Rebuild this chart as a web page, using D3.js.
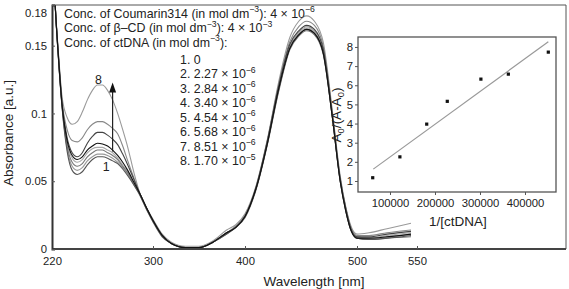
<!DOCTYPE html>
<html>
<head>
<meta charset="utf-8">
<script src="https://cdn.jsdelivr.net/npm/d3@7"></script>
<style>
body { margin: 0; background: #fff; }
svg { font-family: "Liberation Sans", Arial, sans-serif; }
</style>
</head>
<body>
<div id="chart"></div>
<script>
// wavelengths (nm) shared by all 8 spectra
const wavelengths = [220,222,225,228,232,236,240,244,248,252,256,260,264,268,272,276,280,285,290,295,
  300,310,320,335,350,365,380,390,400,410,420,430,440,448,455,462,470,478,485,490,495,500,510,525,545];

const abs1 = [0.24,0.19,0.142,0.104,0.072,0.058,0.055,0.057,0.062,0.066,0.068,0.068,0.067,0.065,0.063,0.059,0.054,0.047,0.039,0.029,
  0.020,0.009,0.004,0.001,0.001,0.005,0.011,0.016,0.024,0.045,0.078,0.117,0.148,0.158,0.162,0.159,0.144,0.097,0.050,0.028,0.013,0.008,0.007,0.008,0.010];
const abs2 = [0.24,0.19,0.142,0.105,0.074,0.061,0.058,0.060,0.065,0.068,0.070,0.070,0.069,0.067,0.064,0.060,0.055,0.047,0.039,0.029,
  0.021,0.010,0.004,0.001,0.001,0.005,0.012,0.016,0.024,0.045,0.079,0.119,0.150,0.160,0.164,0.161,0.146,0.098,0.051,0.029,0.014,0.009,0.008,0.009,0.011];
const abs3 = [0.24,0.19,0.142,0.105,0.076,0.064,0.061,0.063,0.068,0.071,0.073,0.073,0.071,0.069,0.066,0.061,0.056,0.048,0.040,0.030,
  0.021,0.010,0.004,0.001,0.001,0.005,0.011,0.016,0.023,0.044,0.077,0.116,0.147,0.157,0.161,0.158,0.143,0.097,0.050,0.028,0.013,0.008,0.007,0.008,0.009];
const abs4 = [0.24,0.19,0.143,0.106,0.078,0.067,0.064,0.066,0.071,0.074,0.075,0.075,0.073,0.071,0.067,0.062,0.057,0.048,0.040,0.030,
  0.021,0.010,0.004,0.001,0.001,0.005,0.012,0.016,0.024,0.045,0.078,0.118,0.149,0.159,0.163,0.160,0.145,0.098,0.051,0.029,0.014,0.009,0.008,0.010,0.012];
const abs5 = [0.24,0.19,0.143,0.106,0.080,0.069,0.066,0.068,0.073,0.076,0.078,0.0775,0.076,0.073,0.069,0.064,0.058,0.049,0.040,0.030,
  0.021,0.010,0.004,0.001,0.001,0.005,0.012,0.016,0.024,0.045,0.078,0.118,0.148,0.158,0.162,0.159,0.144,0.097,0.050,0.028,0.013,0.008,0.008,0.009,0.011];
const abs6 = [0.24,0.19,0.144,0.107,0.082,0.071,0.068,0.071,0.078,0.083,0.086,0.086,0.084,0.081,0.077,0.070,0.062,0.051,0.040,0.030,
  0.021,0.010,0.004,0.001,0.001,0.005,0.012,0.016,0.024,0.046,0.080,0.120,0.151,0.161,0.165,0.162,0.147,0.099,0.052,0.030,0.014,0.009,0.009,0.011,0.013];
const abs7 = [0.24,0.19,0.145,0.109,0.088,0.080,0.079,0.082,0.088,0.092,0.094,0.094,0.092,0.089,0.085,0.076,0.065,0.052,0.040,0.030,
  0.021,0.010,0.004,0.001,0.001,0.005,0.012,0.017,0.025,0.046,0.080,0.121,0.153,0.164,0.168,0.165,0.149,0.100,0.052,0.030,0.015,0.010,0.010,0.012,0.014];
const abs8 = [0.24,0.19,0.146,0.112,0.097,0.092,0.094,0.101,0.110,0.117,0.121,0.121,0.117,0.110,0.100,0.088,0.075,0.056,0.040,0.030,
  0.022,0.011,0.005,0.002,0.002,0.006,0.014,0.018,0.026,0.047,0.081,0.123,0.156,0.168,0.172,0.168,0.152,0.102,0.054,0.031,0.016,0.011,0.012,0.015,0.019];

const xTicks = [220, 300, 400, 500, 550];
const yTicks = [0, 0.05, 0.1, 0.15, 0.18];

// legend text
const headerLines = [
  [["Conc. of Coumarin314 (in mol dm", ""], ["−3", "sup"], ["): 4 × 10", ""], ["−6", "sup"]],
  [["Conc. of β–CD (in mol dm", ""], ["−3", "sup"], ["): 4 × 10", ""], ["−3", "sup"]],
  [["Conc. of ctDNA (in mol dm", ""], ["−3", "sup"], ["):", ""]]
];
const concMantissa = ["0", "2.27", "2.84", "3.40", "4.54", "5.68", "8.51", "1.70"];
const concExponent = ["", "−6", "−6", "−6", "−6", "−6", "−6", "−5"];

// inset: A0/(A-A0) vs 1/[ctDNA]
const invConc = [61600, 122000, 181600, 227300, 302000, 363000, 451800];
const ratio = [1.17, 2.26, 3.97, 5.16, 6.32, 6.58, 7.73];
const fitX = [62900, 451800];
const fitY = [1.62, 8.27];
const insetXTicks = [100000, 200000, 300000, 400000];
const insetYTicks = [1, 2, 3, 4, 5, 6, 7, 8];

const W = 569, H = 289;
const svg = d3.select("#chart").append("svg")
  .attr("width", W).attr("height", H);

// main scales (the original axis is not evenly spaced)
const x = d3.scaleLinear().domain([220, 300, 400, 500, 550]).range([52, 153, 245, 357, 417]);
const y = d3.scaleLinear().domain([0, 0.18]).range([249, 5]);

svg.append("clipPath").attr("id", "plotclip")
  .append("rect").attr("x", 52).attr("y", 5).attr("width", 514).attr("height", 244);

const spectra = [abs8, abs7, abs4, abs2, abs3, abs1, abs6, abs5];
const colors = ["#9a9a9a", "#888", "#aaa", "#999", "#777", "#555", "#444", "#111"];

const line = d3.line()
  .x((d, i) => x(wavelengths[i]))
  .y(d => y(d))
  .curve(d3.curveMonotoneX);

svg.append("g").attr("clip-path", "url(#plotclip)")
  .selectAll("path")
  .data(spectra)
  .join("path")
    .attr("d", line)
    .attr("fill", "none")
    .attr("stroke", (d, i) => colors[i])
    .attr("stroke-width", 1.1);

// frame
svg.append("line").attr("x1", 52).attr("x2", 566).attr("y1", 5).attr("y2", 5)
  .attr("stroke", "#555").attr("stroke-width", 1);
svg.append("line").attr("x1", 566).attr("x2", 566).attr("y1", 5).attr("y2", 249)
  .attr("stroke", "#555").attr("stroke-width", 1);

const xAxis = svg.append("g")
  .attr("transform", "translate(0,249)")
  .call(d3.axisBottom(x).tickValues(xTicks).tickFormat(d3.format("d")).tickSize(-3).tickPadding(8));
xAxis.select(".domain").attr("d", "M52,0H566").attr("stroke", "#444").attr("stroke-width", 2);

const yAxis = svg.append("g")
  .attr("transform", "translate(52,0)")
  .call(d3.axisLeft(y).tickValues(yTicks).tickFormat(d => d === 0 ? "0" : String(d)).tickSize(-3).tickPadding(5));
yAxis.select(".domain").attr("stroke", "#333").attr("stroke-width", 2);
yAxis.selectAll(".tick text").filter(d => d === 0.18).attr("dy", "1.05em");

svg.selectAll(".tick text").attr("font-size", 11.3).attr("fill", "#222").attr("font-family", null);
svg.selectAll(".tick line").attr("stroke", "#555");

svg.append("text")
  .attr("x", 314).attr("y", 286)
  .attr("text-anchor", "middle").attr("font-size", 13.5).attr("fill", "#222")
  .text("Wavelength [nm]");
svg.append("text")
  .attr("transform", "translate(13,133) rotate(-90)")
  .attr("text-anchor", "middle").attr("font-size", 13.5).attr("fill", "#222")
  .text("Absorbance [a.u.]");

// helper for text with superscripts / subscripts
function richText(g, parts, size) {
  const t = g.append("text").attr("font-size", size).attr("fill", "#222");
  let shift = 0;
  parts.forEach(p => {
    const sp = t.append("tspan").text(p[0]);
    let want = 0;
    if (p[1] === "sup") { want = -size * 0.42; sp.attr("font-size", size * 0.7); }
    if (p[1] === "sub") { want = size * 0.25; sp.attr("font-size", size * 0.7); }
    if (want !== shift) sp.attr("dy", want - shift);
    shift = want;
  });
  return t;
}

headerLines.forEach((parts, i) => {
  richText(svg, parts, 12.4).attr("x", 64).attr("y", 17.5 + i * 14.5);
});
concMantissa.forEach((m, i) => {
  const parts = [[(i + 1) + ". " + m + (concExponent[i] ? " × 10" : ""), ""]];
  if (concExponent[i]) parts.push([concExponent[i], "sup"]);
  richText(svg, parts, 12.4).attr("x", 180).attr("y", 63.5 + i * 14.5);
});

// arrow and curve numbers
const arrowNm = 268, arrowFrom = 0.072, arrowTo = 0.1228;
svg.append("line")
  .attr("x1", x(arrowNm)).attr("x2", x(arrowNm))
  .attr("y1", y(arrowFrom)).attr("y2", y(arrowTo) + 8)
  .attr("stroke", "#222").attr("stroke-width", 1.2);
svg.append("path")
  .attr("d", `M${x(arrowNm)},${y(arrowTo)} l-3.5,10 h7 z`)
  .attr("fill", "#111");
svg.append("text").attr("x", x(256.8)).attr("y", y(0.1249) + 4.5)
  .attr("text-anchor", "middle").attr("font-size", 12.4).attr("fill", "#222").text("8");
svg.append("text").attr("x", x(263)).attr("y", y(0.0606) + 4.5)
  .attr("text-anchor", "middle").attr("font-size", 12.4).attr("fill", "#222").text("1");

// inset
const ix = d3.scaleLinear().domain([28900, 468900]).range([358, 556]);
const iy = d3.scaleLinear().domain([0.425, 8.52]).range([192, 37]);

const inset = svg.append("g");
inset.append("rect").attr("x", 358).attr("y", 37).attr("width", 198).attr("height", 155)
  .attr("fill", "#fff").attr("stroke", "#555").attr("stroke-width", 1.3);

const iyAxis = inset.append("g").attr("transform", "translate(358,0)")
  .call(d3.axisLeft(iy).tickValues(insetYTicks).tickSize(3).tickPadding(2));
const ixAxis = inset.append("g").attr("transform", "translate(0,192)")
  .call(d3.axisBottom(ix).tickValues(insetXTicks).tickFormat(d3.format("d")).tickSize(3).tickPadding(4));
inset.selectAll(".domain").remove();
inset.selectAll(".tick text").attr("font-size", 11.3).attr("fill", "#222").attr("font-family", null);
inset.selectAll(".tick line").attr("stroke", "#555");

inset.append("line")
  .attr("x1", ix(fitX[0])).attr("y1", iy(fitY[0]))
  .attr("x2", ix(fitX[1])).attr("y2", iy(fitY[1]))
  .attr("stroke", "#999").attr("stroke-width", 1.2);

inset.selectAll("rect.pt")
  .data(invConc)
  .join("rect").attr("class", "pt")
    .attr("x", (d) => ix(d) - 1.6)
    .attr("y", (d, i) => iy(ratio[i]) - 1.6)
    .attr("width", 3.2).attr("height", 3.2)
    .attr("fill", "#111");

inset.append("text").attr("x", 458).attr("y", 226)
  .attr("text-anchor", "middle").attr("font-size", 13.5).attr("fill", "#222")
  .text("1/[ctDNA]");
richText(inset, [["A", ""], ["0", "sub"], ["/(A-A", ""], ["0", "sub"], [")", ""]], 13.5)
  .attr("text-anchor", "middle")
  .attr("transform", "translate(341,115) rotate(-90)");
</script>
</body>
</html>
